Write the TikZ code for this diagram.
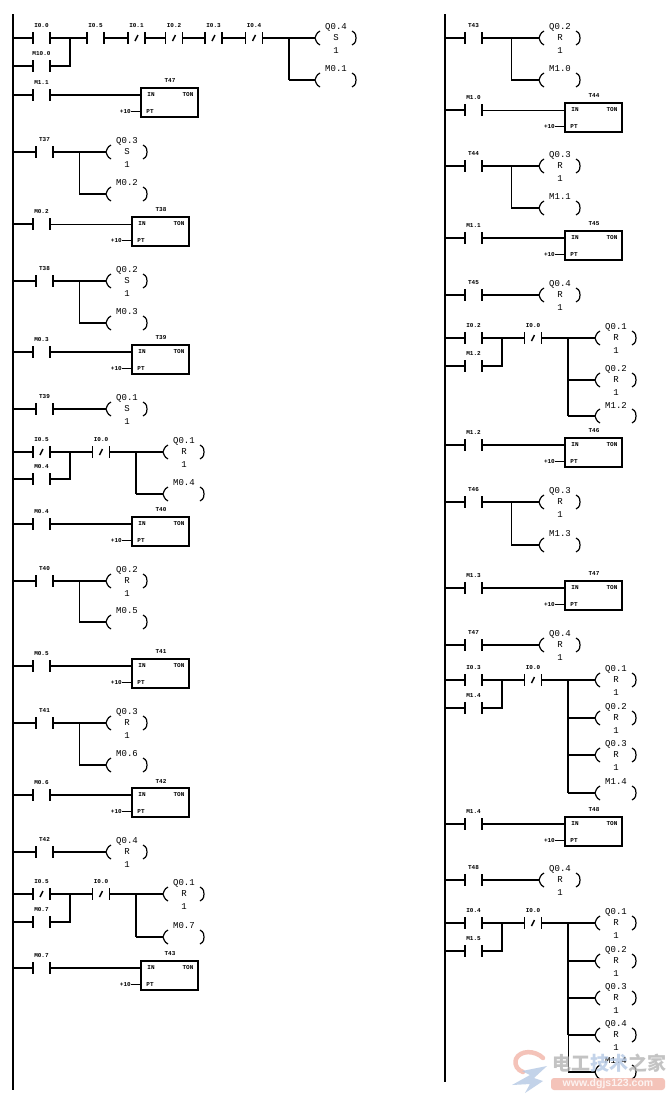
\documentclass[tikz,border=0pt]{standalone}
\usetikzlibrary{calc}
\usepackage{fontspec}
\setmainfont{Liberation Sans}
\setmonofont{Liberation Mono}
\newfontfamily\cjkwm{Noto Sans CJK SC}
\definecolor{wmred}{HTML}{F2B4A8}
\definecolor{wmblue}{HTML}{B4C8E4}
\definecolor{wmgray}{HTML}{B4B4B4}
\tikzset{
  wire/.style={line width=1.8pt},
  thinwire/.style={line width=1pt},
  bar/.style={line width=1.8pt},
  paren/.style={line width=1.2pt},
  slash/.style={line width=1.5pt},
  tag/.style={inner sep=0pt,font=\ttfamily\bfseries\fontsize{6}{6}\selectfont},
  coiltag/.style={inner sep=0pt,font=\ttfamily\fontsize{9}{9}\selectfont},
  tonbox/.style={draw,line width=1.6pt,minimum width=57pt,minimum height=29pt,inner sep=0pt},
}
% contact: name, x, y, label
\newcommand{\nocontact}[4]{%
  \coordinate (#1-l) at (#2,#3);
  \coordinate (#1-r) at ($(#1-l)+(17,0)$);
  \draw[bar] ($(#1-l)+(0,-6)$) -- ($(#1-l)+(0,6)$);
  \draw[bar] ($(#1-r)+(0,-6)$) -- ($(#1-r)+(0,6)$);
  \node[tag] (#1-t) at ($(#1-l)+(8.5,-12.5)$) {#4};
}
\newcommand{\nccontact}[4]{%
  \nocontact{#1}{#2}{#3}{#4}
  \draw[slash] ($(#1-l)+(7,3)$) -- ($(#1-l)+(10,-3)$);
}
% coil: name, x, y, top, middle, bottom
\newcommand{\coil}[6]{%
  \coordinate (#1) at (#2,#3);
  \draw[paren] ($(#1)+(5,-7)$) .. controls ($(#1)+(1,-5)$) and ($(#1)+(1,-2)$) .. (#1) .. controls ($(#1)+(1,2)$) and ($(#1)+(1,5)$) .. ($(#1)+(5,7)$);
  \draw[paren] ($(#1)+(37,-7)$) .. controls ($(#1)+(41,-5)$) and ($(#1)+(41,-2)$) .. ($(#1)+(41,0)$) .. controls ($(#1)+(41,2)$) and ($(#1)+(41,5)$) .. ($(#1)+(37,7)$);
  \node[coiltag] (#1-a) at ($(#1)+(21,-11)$) {#4};
  \node[coiltag] (#1-b) at ($(#1)+(21,0)$) {#5};
  \node[coiltag] (#1-c) at ($(#1)+(21,13)$) {#6};
}
\newcommand{\ton}[4]{%
  \coordinate (#1-in) at (#2,#3);
  \coordinate (#1-pt) at ($(#1-in)+(0,16.5)$);
  \node[tonbox] (#1) at ($(#1-in)+(28.5,7.5)$) {};
  \node[tag] (#1-title) at ($(#1-in)+(29,-14)$) {#4};
  \node[tag] (#1-i) at ($(#1-in)+(10,0)$) {IN};
  \node[tag] (#1-o) at ($(#1-in)+(47,0)$) {TON};
  \node[tag] (#1-p) at ($(#1-pt)+(9,0)$) {PT};
  \node[tag,anchor=east] (#1-k) at ($(#1-pt)+(-10,0)$) {+10};
  \draw[wire] (#1-k) -- (#1-pt);
}
% timer rung: id, rail, contact x, y, label, box x, title, wire style
\newcommand{\timerrung}[8]{%
  \nocontact{#1c}{#3}{#4}{#5}
  \ton{#1b}{#6}{#4}{#7}
  \draw[wire] (#1c-l -| #2) -- (#1c-l);
  \draw[#8] (#1c-r) -- (#1b-in);
}
% coil rung: id, rail, contact x, y, label, coil x, top, mid, bottom
\newcommand{\coilrung}[9]{%
  \nocontact{#1c}{#3}{#4}{#5}
  \coil{#1q}{#6}{#4}{#7}{#8}{#9}
  \draw[wire] (#1c-l -| #2) -- (#1c-l);
  \draw[wire] (#1c-r) -- (#1q);
}
% branch: id, from coordinate, branch x, coil x, y, top, mid, bottom, vertical style
\newcommand{\branch}[9]{%
  \coil{#1}{#4}{#5}{#6}{#7}{#8}
  \coordinate (#1-x) at (#3,0);
  \coordinate (#1-j) at (#1-x |- #2);
  \draw[#9] (#1-j) -- (#1-j |- #1);
  \draw[wire] (#1-j |- #1) -- (#1);
}
% latch rung: id, rail, x1, y, NO/NC macro, label, x2, y2, label2
\newcommand{\parallelrung}[9]{%
  #5{#1a}{#3}{#4}{#6}
  \nocontact{#1p}{#3}{#8}{#9}
  \draw[wire] (#1a-l -| #2) -- (#1a-l);
  \draw[wire] (#1p-l -| #2) -- (#1p-l);
  \coordinate (#1j) at (#7,#4);
  \draw[wire] (#1a-r) -- (#1j);
  \draw[wire] (#1p-r) -- (#1j |- #1p-r) -- (#1j);
}
\begin{document}
\begin{tikzpicture}[x=1pt,y=-1pt]
\useasboundingbox (0,0) rectangle (670,1103);
\fill[white] (0,0) rectangle (670,1103);
\coordinate (railL) at (13,14);
\coordinate (railLb) at (13,1090);
\coordinate (railR) at (445,14);
\coordinate (railRb) at (445,1082);
\draw[wire] (railL) -- (railLb);
\draw[wire] (railR) -- (railRb);

% ---------- left column ----------
\parallelrung{a}{railL}{33}{38}{\nocontact}{I0.0}{70}{66}{M10.0}
\nocontact{a1}{87}{38}{I0.5}
\nccontact{a2}{128}{38}{I0.1}
\nccontact{a3}{165.5}{38}{I0.2}
\nccontact{a4}{205}{38}{I0.3}
\nccontact{a5}{245.5}{38}{I0.4}
\coil{aq}{315}{38}{Q0.4}{S}{1}
\draw[wire] (aj) -- (a1-l);
\draw[wire] (a1-r) -- (a2-l);
\draw[wire] (a2-r) -- (a3-l);
\draw[wire] (a3-r) -- (a4-l);
\draw[wire] (a4-r) -- (a5-l);
\draw[wire] (a5-r) -- (aq);
\branch{ar}{aq}{289}{315}{80}{M0.1}{}{}{wire}
\timerrung{b}{railL}{33}{95}{M1.1}{141}{T47}{wire}

\coilrung{c}{railL}{36}{152}{T37}{106}{Q0.3}{S}{1}
\branch{cr}{cq}{79}{106}{194}{M0.2}{}{}{thinwire}
\timerrung{d}{railL}{33}{224}{M0.2}{132}{T38}{thinwire}

\coilrung{e}{railL}{36}{281}{T38}{106}{Q0.2}{S}{1}
\branch{er}{eq}{79}{106}{323}{M0.3}{}{}{thinwire}
\timerrung{f}{railL}{33}{352}{M0.3}{132}{T39}{wire}

\coilrung{g}{railL}{36}{409}{T39}{106}{Q0.1}{S}{1}

\parallelrung{h}{railL}{33}{452}{\nccontact}{I0.5}{70}{479}{M0.4}
\nccontact{h1}{92.5}{452}{I0.0}
\coil{hq}{163}{452}{Q0.1}{R}{1}
\draw[wire] (hj) -- (h1-l);
\draw[wire] (h1-r) -- (hq);
\branch{hr}{hq}{136}{163}{494}{M0.4}{}{}{wire}
\timerrung{i}{railL}{33}{524}{M0.4}{132}{T40}{wire}

\coilrung{j}{railL}{36}{581}{T40}{106}{Q0.2}{R}{1}
\branch{jr}{jq}{79}{106}{622}{M0.5}{}{}{thinwire}
\timerrung{k}{railL}{33}{666}{M0.5}{132}{T41}{wire}

\coilrung{l}{railL}{36}{723}{T41}{106}{Q0.3}{R}{1}
\branch{lr}{lq}{79}{106}{765}{M0.6}{}{}{thinwire}
\timerrung{m}{railL}{33}{795}{M0.6}{132}{T42}{wire}

\coilrung{n}{railL}{36}{852}{T42}{106}{Q0.4}{R}{1}

\parallelrung{o}{railL}{33}{894}{\nccontact}{I0.5}{70}{922}{M0.7}
\nccontact{o1}{92.5}{894}{I0.0}
\coil{oq}{163}{894}{Q0.1}{R}{1}
\draw[wire] (oj) -- (o1-l);
\draw[wire] (o1-r) -- (oq);
\branch{or}{oq}{136}{163}{937}{M0.7}{}{}{wire}
\timerrung{p}{railL}{33}{968}{M0.7}{141}{T43}{wire}

% ---------- right column ----------
\coilrung{q}{railR}{465}{38}{T43}{539}{Q0.2}{R}{1}
\branch{qr}{qq}{511}{539}{80}{M1.0}{}{}{thinwire}
\timerrung{r}{railR}{465}{110}{M1.0}{565}{T44}{thinwire}

\coilrung{s}{railR}{465}{166}{T44}{539}{Q0.3}{R}{1}
\branch{sr}{sq}{511}{539}{208}{M1.1}{}{}{thinwire}
\timerrung{t}{railR}{465}{238}{M1.1}{565}{T45}{wire}

\coilrung{u}{railR}{465}{295}{T45}{539}{Q0.4}{R}{1}

\parallelrung{v}{railR}{465}{338}{\nocontact}{I0.2}{502}{366}{M1.2}
\nccontact{v1}{524.5}{338}{I0.0}
\coil{vq}{595}{338}{Q0.1}{R}{1}
\draw[wire] (vj) -- (v1-l);
\draw[wire] (v1-r) -- (vq);
\branch{vq2}{vq}{568}{595}{380}{Q0.2}{R}{1}{wire}
\branch{vr}{vq}{568}{595}{416}{M1.2}{}{}{wire}
\timerrung{w}{railR}{465}{445}{M1.2}{565}{T46}{wire}

\coilrung{x}{railR}{465}{502}{T46}{539}{Q0.3}{R}{1}
\branch{xr}{xq}{511}{539}{545}{M1.3}{}{}{thinwire}
\timerrung{y}{railR}{465}{588}{M1.3}{565}{T47}{wire}

\coilrung{z}{railR}{465}{645}{T47}{539}{Q0.4}{R}{1}

\parallelrung{aa}{railR}{465}{680}{\nocontact}{I0.3}{502}{708}{M1.4}
\nccontact{aa1}{524.5}{680}{I0.0}
\coil{aaq}{595}{680}{Q0.1}{R}{1}
\draw[wire] (aaj) -- (aa1-l);
\draw[wire] (aa1-r) -- (aaq);
\branch{aaq2}{aaq}{568}{595}{718}{Q0.2}{R}{1}{wire}
\branch{aaq3}{aaq}{568}{595}{755}{Q0.3}{R}{1}{wire}
\branch{aar}{aaq}{568}{595}{793}{M1.4}{}{}{wire}
\timerrung{ab}{railR}{465}{824}{M1.4}{565}{T48}{wire}

\coilrung{ac}{railR}{465}{880}{T48}{539}{Q0.4}{R}{1}

\parallelrung{ad}{railR}{465}{923}{\nocontact}{I0.4}{502}{951}{M1.5}
\nccontact{ad1}{524.5}{923}{I0.0}
\coil{adq}{595}{923}{Q0.1}{R}{1}
\draw[wire] (adj) -- (ad1-l);
\draw[wire] (ad1-r) -- (adq);
\branch{adq2}{adq}{568}{595}{961}{Q0.2}{R}{1}{wire}
\branch{adq3}{adq}{568}{595}{998}{Q0.3}{R}{1}{wire}
\branch{adq4}{adq}{568}{595}{1035}{Q0.4}{R}{1}{wire}
\branch{adr}{adq}{568}{595}{1072}{M1.4}{}{}{thinwire}

% ---------- watermark ----------
\begin{scope}[opacity=0.8]
\draw[line width=4.5pt,color=wmred,line cap=round]
  (543,1058) .. controls (535,1050) and (520,1050) .. (516,1059) .. controls (514,1066) and (518,1070) .. (523,1072);
\fill[color=wmblue]
  (522,1071) -- (547,1066) -- (534,1078) -- (543,1081) -- (525,1093) -- (530,1084) -- (512,1085) -- (530,1075) -- cycle;
\node[inner sep=0pt,anchor=west] (wm1) at (552,1063.5) {\cjkwm\bfseries\fontsize{19}{19}\selectfont\textcolor{wmgray}{电工}\textcolor{wmblue}{技术}\textcolor{wmgray}{之家}};
\fill[color=wmred,rounded corners=3pt] (551,1078) rectangle (665,1090);
\node[inner sep=0pt] (wm2) at (608,1084) {\bfseries\fontsize{10.5}{10.5}\selectfont\textcolor{white}{www.dgjs123.com}};
\end{scope}
\end{tikzpicture}
\end{document}
